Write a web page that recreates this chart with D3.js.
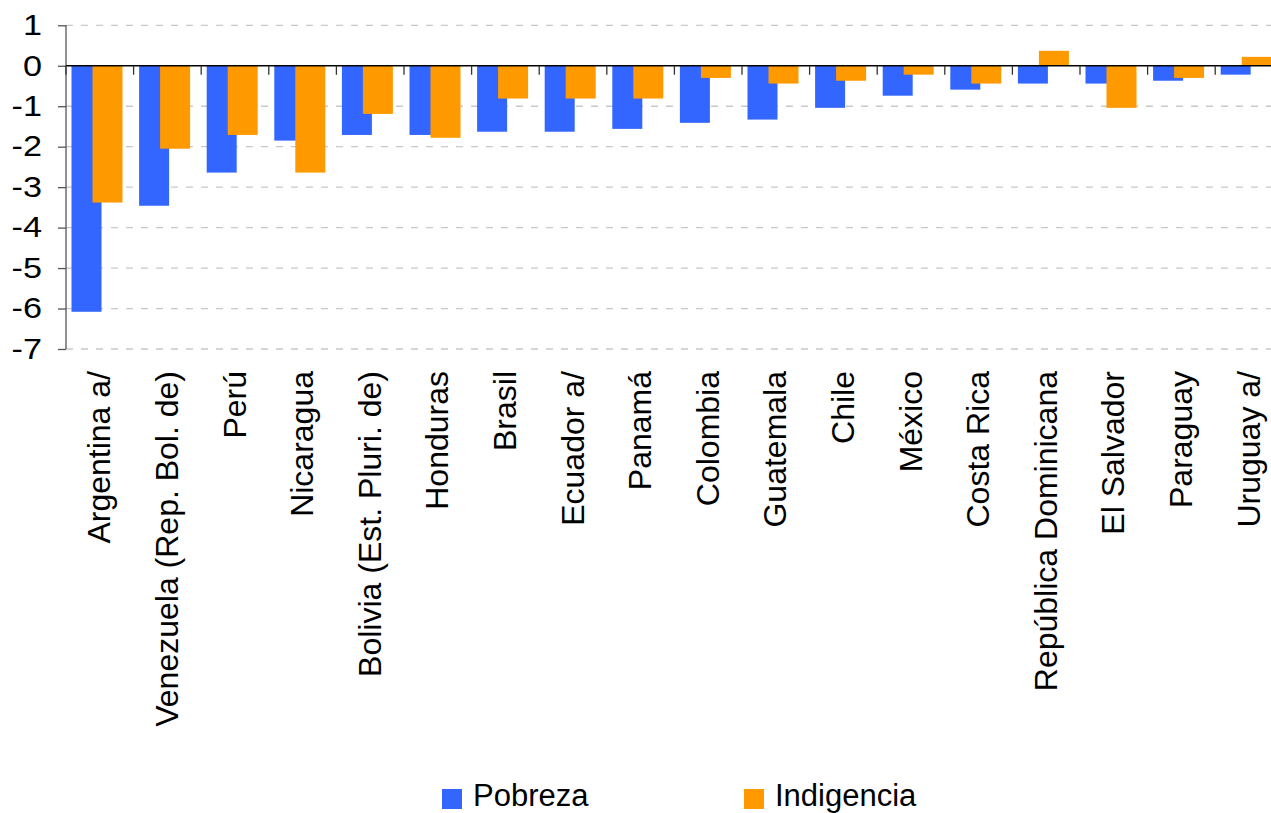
<!DOCTYPE html>
<html>
<head>
<meta charset="utf-8">
<script src="https://cdn.jsdelivr.net/npm/d3@7"></script>
<style>
  body { margin: 0; background: #fff; }
  svg { display: block; font-family: "Liberation Sans", Arial, sans-serif; }
</style>
</head>
<body>
<script>
// data
var paises = ["Argentina a/", "Venezuela (Rep. Bol. de)", "Perú", "Nicaragua",
    "Bolivia (Est. Pluri. de)", "Honduras", "Brasil", "Ecuador a/", "Panamá",
    "Colombia", "Guatemala", "Chile", "México", "Costa Rica",
    "República Dominicana", "El Salvador", "Paraguay", "Uruguay a/"];
var pobreza = [-6.08, -3.46, -2.64, -1.85, -1.71, -1.71, -1.63, -1.63, -1.56,
    -1.41, -1.33, -1.04, -0.74, -0.59, -0.44, -0.44, -0.37, -0.22];
var indigencia = [-3.38, -2.05, -1.71, -2.64, -1.19, -1.78, -0.81, -0.81, -0.81,
    -0.30, -0.44, -0.37, -0.22, -0.44, 0.37, -1.04, -0.30, 0.22];
var yTicks = [1, 0, -1, -2, -3, -4, -5, -6, -7];
var series = ["Pobreza", "Indigencia"];
var colores = ["#3366ff", "#ff9900"];

function init() {
    var W = 1271, H = 813;
    var left = 66, step = 67.6;

    var svg = d3.select("body").append("svg")
        .attr("width", W)
        .attr("height", H);

    var x = d3.scaleBand()
        .domain(paises)
        .range([left, left + step * paises.length])
        .padding(0);

    var y = d3.scaleLinear()
        .domain([-7, 1])
        .range([349, 25.3]);

    // dashed gridlines
    svg.append("g")
        .selectAll("line")
        .data(yTicks.filter(function(d) { return d !== 0; }))
        .enter().append("line")
        .attr("x1", left).attr("x2", W)
        .attr("y1", function(d) { return y(d); })
        .attr("y2", function(d) { return y(d); })
        .attr("stroke", "#c8c8c8")
        .attr("stroke-width", 1.3)
        .attr("stroke-dasharray", "7,8");

    // bars: blue first, orange on top
    var bw = 30;
    svg.append("g").selectAll("rect")
        .data(pobreza)
        .enter().append("rect")
        .attr("x", function(d, i) { return x(paises[i]) + 5.5; })
        .attr("width", bw)
        .attr("y", function(d) { return Math.min(y(d), y(0)); })
        .attr("height", function(d) { return Math.abs(y(d) - y(0)); })
        .attr("fill", colores[0]);

    svg.append("g").selectAll("rect")
        .data(indigencia)
        .enter().append("rect")
        .attr("x", function(d, i) { return x(paises[i]) + 26.5; })
        .attr("width", bw)
        .attr("y", function(d) { return Math.min(y(d), y(0)); })
        .attr("height", function(d) { return Math.abs(y(d) - y(0)); })
        .attr("fill", colores[1]);

    // y axis
    var yAxis = d3.axisLeft(y)
        .tickValues(yTicks)
        .tickSize(8)
        .tickFormat(d3.format("d"));

    var gy = svg.append("g")
        .attr("transform", "translate(" + left + ",0)")
        .call(yAxis);
    gy.select(".domain").attr("stroke", "#555").attr("stroke-width", 1.3)
        .attr("d", "M0," + y(1) + "V" + y(-7));
    gy.selectAll(".tick line").attr("stroke", "#555").attr("stroke-width", 1.3);
    // labels look a bit wide in the original, stretch them horizontally
    gy.selectAll(".tick text")
        .attr("font-size", "29px")
        .attr("font-family", "Liberation Sans, Arial, sans-serif")
        .attr("fill", "#000")
        .attr("x", -24 / 1.18)
        .attr("transform", "scale(1.18,1)")
        .text(function(d) { return d < 0 ? "-" + Math.abs(d) : d; });

    // zero line with category ticks
    svg.append("line")
        .attr("x1", left).attr("x2", W)
        .attr("y1", y(0)).attr("y2", y(0))
        .attr("stroke", "#000").attr("stroke-width", 1.6);

    svg.append("g").selectAll("line")
        .data(paises)
        .enter().append("line")
        .attr("x1", function(d) { return x(d); })
        .attr("x2", function(d) { return x(d); })
        .attr("y1", y(0)).attr("y2", y(0) + 9)
        .attr("stroke", "#333").attr("stroke-width", 1.3);

    // category labels, rotated
    svg.append("g").selectAll("text")
        .data(paises)
        .enter().append("text")
        .attr("transform", function(d) {
            return "translate(" + (x(d) + x.bandwidth() / 2 - 1) + ",371) rotate(-90)";
        })
        .attr("dy", "0.36em")
        .attr("text-anchor", "end")
        .attr("font-size", "32px")
        .attr("fill", "#000")
        .text(function(d) { return d; });

    // legend
    var legX = [442, 744];
    var leg = svg.append("g").selectAll("g")
        .data(series)
        .enter().append("g")
        .attr("transform", function(d, i) { return "translate(" + legX[i] + ",789)"; });
    leg.append("rect")
        .attr("width", 20).attr("height", 20)
        .attr("fill", function(d, i) { return colores[i]; });
    leg.append("text")
        .attr("x", 31).attr("y", 17)
        .attr("font-size", "31px")
        .attr("fill", "#000")
        .text(function(d) { return d; });
}

init();
</script>
</body>
</html>
